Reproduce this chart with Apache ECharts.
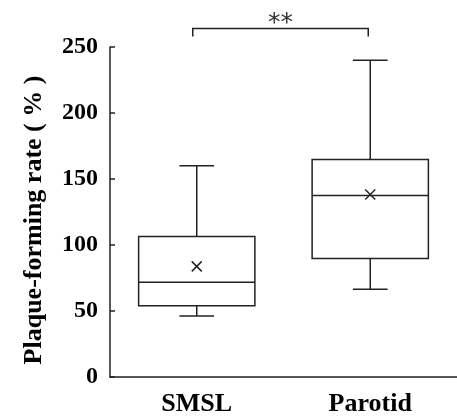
<!DOCTYPE html>
<html>
<head>
<meta charset="utf-8">
<script src="https://cdn.jsdelivr.net/npm/echarts@6/dist/echarts.min.js"></script>
<style>html,body{margin:0;padding:0;background:#fff;}#c{width:457px;height:417px;}</style>
</head>
<body>
<div id="c"></div>
<script>
var categories = ['SMSL', 'Parotid'];
var whiskerLow = [46.3, 66.5];
var q1 = [53.9, 89.7];
var median = [71.8, 137.5];
var q3 = [106.5, 164.7];
var whiskerHigh = [160, 240];
var means = [83.8, 138.2];
var yTicks = [0, 50, 100, 150, 200, 250];
var sigPair = [0, 1];
var sigLevel = 264;
var sigLabel = '**';

var LINE = '#222';
var boxData = categories.map(function (c, i) {
  return [i, whiskerLow[i], q1[i], median[i], q3[i], whiskerHigh[i], means[i]];
});

function renderBox(params, api) {
  var i = api.value(0);
  var band = api.size([1, 0])[0];
  var bw = band * 0.67, cw = band * 0.2, mk = 5;
  var pLow = api.coord([i, api.value(1)]);
  var pQ1 = api.coord([i, api.value(2)]);
  var pMed = api.coord([i, api.value(3)]);
  var pQ3 = api.coord([i, api.value(4)]);
  var pHigh = api.coord([i, api.value(5)]);
  var pMean = api.coord([i, api.value(6)]);
  var x = pQ1[0];
  var st = { stroke: LINE, lineWidth: 1.5, fill: null };
  function line(x1, y1, x2, y2) {
    return { type: 'line', shape: { x1: x1, y1: y1, x2: x2, y2: y2 }, style: st };
  }
  return {
    type: 'group',
    children: [
      { type: 'rect', shape: { x: x - bw / 2, y: pQ3[1], width: bw, height: pQ1[1] - pQ3[1] }, style: { stroke: LINE, lineWidth: 1.5, fill: 'none' } },
      line(x - bw / 2, pMed[1], x + bw / 2, pMed[1]),
      line(x, pQ3[1], x, pHigh[1]),
      line(x, pQ1[1], x, pLow[1]),
      line(x - cw / 2, pHigh[1], x + cw / 2, pHigh[1]),
      line(x - cw / 2, pLow[1], x + cw / 2, pLow[1]),
      line(pMean[0] - mk, pMean[1] - mk, pMean[0] + mk, pMean[1] + mk),
      line(pMean[0] - mk, pMean[1] + mk, pMean[0] + mk, pMean[1] - mk)
    ]
  };
}

function renderSig(params, api) {
  var a = api.coord([api.value(0), api.value(2)]);
  var b = api.coord([api.value(1), api.value(2)]);
  var drop = 8;
  var st = { stroke: LINE, lineWidth: 1.5, fill: null };
  return {
    type: 'group',
    children: [
      { type: 'polyline', shape: { points: [[a[0] - 4, a[1] + drop], [a[0] - 4, a[1]], [b[0] - 2, b[1]], [b[0] - 2, b[1] + drop]] }, style: st },
      { type: 'text', x: (a[0] + b[0]) / 2 - 3, y: a[1] - 5, style: { text: sigLabel, fill: '#333', font: '25px "DejaVu Sans"', textAlign: 'center', textVerticalAlign: 'middle' } }
    ]
  };
}

var chart = echarts.init(document.getElementById('c'), null, { renderer: 'canvas' });
chart.setOption({
  animation: false,
  backgroundColor: '#fff',
  grid: { left: 110, right: -9, top: 47, bottom: 39, containLabel: false },
  xAxis: {
    type: 'category',
    data: categories,
    boundaryGap: true,
    axisLine: { lineStyle: { color: LINE, width: 1.5 } },
    axisTick: { inside: true, length: 4, lineStyle: { color: LINE, width: 1.5 } },
    axisLabel: { margin: 14, color: '#000', fontFamily: 'Liberation Serif', fontWeight: 'bold', fontSize: 26 }
  },
  yAxis: {
    type: 'value',
    min: 0, max: 250, interval: 50,
    name: 'Plaque-forming rate ( % )',
    nameLocation: 'middle',
    nameGap: 63,
    nameRotate: 90,
    nameTextStyle: { color: '#000', fontFamily: 'Liberation Serif', fontWeight: 'bold', fontSize: 26, padding: [0, 16, 0, 0] },
    axisLine: { show: true, lineStyle: { color: LINE, width: 1.5 } },
    axisTick: { show: true, inside: true, length: 5, lineStyle: { color: LINE, width: 1.5 } },
    splitLine: { show: false },
    axisLabel: {
      margin: 12, color: '#000', fontFamily: 'Liberation Serif', fontWeight: 'bold', fontSize: 24,
      formatter: function (v) { return yTicks.indexOf(v) >= 0 ? String(v) : ''; }
    }
  },
  series: [
    { type: 'custom', renderItem: renderBox, data: boxData, clip: false, encode: { x: 0, y: [1, 2, 3, 4, 5] } },
    { type: 'custom', renderItem: renderSig, data: [[sigPair[0], sigPair[1], sigLevel]], clip: false, encode: { x: [0, 1], y: 2 } }
  ]
});
</script>
</body>
</html>
